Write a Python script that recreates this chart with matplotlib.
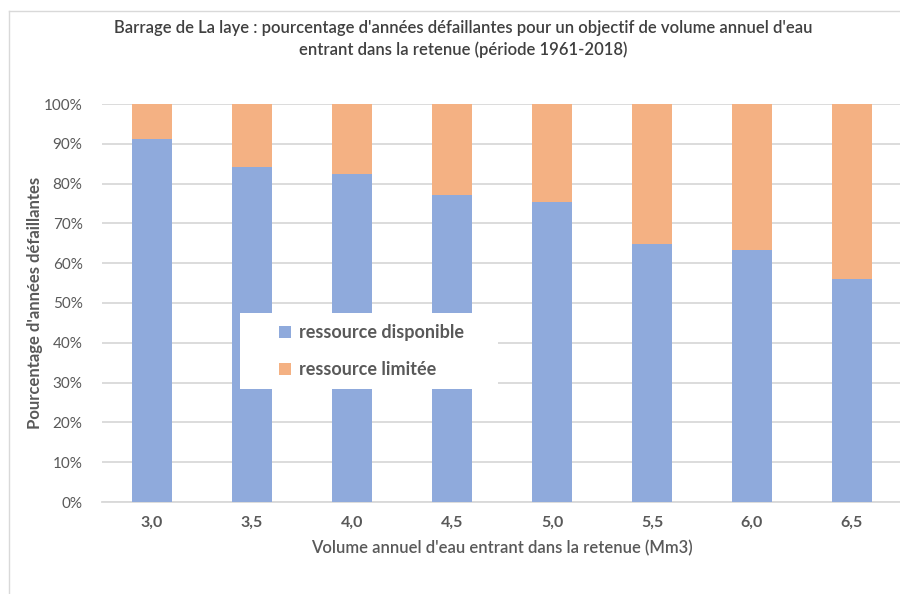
import numpy as np
import matplotlib
matplotlib.use("Agg")
import matplotlib.pyplot as plt
from matplotlib.patches import Rectangle
from matplotlib.ticker import PercentFormatter

# Share of failing years per annual inflow target (1961-2018)
volumes = ["3,0", "3,5", "4,0", "4,5", "5,0", "5,5", "6,0", "6,5"]
disponible = [91.2, 84.2, 82.5, 77.2, 75.4, 64.9, 63.2, 56.1]
limitee = [100 - v for v in disponible]

BLUE = "#8faadc"
ORANGE = "#f4b183"
TEXT = "#595959"
GRID = "#d9d9d9"

plt.rcParams.update({
    "font.family": ["Lato", "DejaVu Sans"],
    "text.color": TEXT,
    "axes.labelcolor": TEXT,
    "xtick.color": TEXT,
    "ytick.color": TEXT,
})

fig = plt.figure(figsize=(9.0, 5.94), dpi=100)
ax = fig.add_axes([102 / 900, 1 - 502 / 594, 800 / 900, 398 / 594])

x = np.arange(len(volumes))
w = 0.4
ax.bar(x, disponible, w, color=BLUE, label="ressource disponible", zorder=3)
ax.bar(x, limitee, w, bottom=disponible, color=ORANGE,
       label="ressource limitée", zorder=3)

ax.set_xlim(-0.5, 7.5)
ax.set_ylim(0, 100)
ax.set_yticks(np.arange(0, 101, 10))
ax.yaxis.set_major_formatter(PercentFormatter(decimals=0))
ax.set_xticks(x)
ax.set_xticklabels(volumes, fontweight="bold")
ax.tick_params(axis="y", length=0, labelsize=11, pad=14)
ax.tick_params(axis="x", length=0, labelsize=11.5, pad=10)
ax.yaxis.grid(True, color=GRID, linewidth=1.3, zorder=0)
for s in ["top", "right", "left"]:
    ax.spines[s].set_visible(False)
ax.spines["bottom"].set_color(GRID)
ax.spines["bottom"].set_linewidth(1.3)

ax.set_ylabel("Pourcentage d'années défaillantes", fontsize=12,
              fontweight="bold")
ax.yaxis.set_label_coords((43 - 102) / 800, 0.5)
ax.set_xlabel("Volume annuel d'eau entrant dans la retenue (Mm3)",
              fontsize=12, fontweight="semibold")
ax.xaxis.set_label_coords(0.5, (502 - 540) / 398)

fig.text(463 / 900, 1 - 39 / 594,
         "Barrage de La laye : pourcentage d'années défaillantes pour un objectif de volume annuel d'eau\n"
         "entrant dans la retenue (période 1961-2018)",
         ha="center", va="center", fontsize=12, fontweight="semibold",
         linespacing=1.4, color="#404040")

# outer chart frame
fig.add_artist(plt.Line2D([9 / 900, 9 / 900], [0, 1 - 11 / 594],
                          color=GRID, lw=1))
fig.add_artist(plt.Line2D([9 / 900, 1], [1 - 11 / 594, 1 - 11 / 594],
                          color=GRID, lw=1))

# legend sits in a white box over the bars
box = Rectangle((240 / 900, 1 - 389 / 594), 258 / 900, 76 / 594,
                transform=fig.transFigure, facecolor="white",
                edgecolor="none", zorder=5, clip_on=False)
ax.add_patch(box)
leg = ax.legend(loc="center left", bbox_to_anchor=(263 / 900, 1 - 351 / 594),
                bbox_transform=fig.transFigure, frameon=False,
                prop={"size": 13, "weight": "bold"}, handlelength=0.65,
                handleheight=0.65, handletextpad=0.45, labelspacing=1.1)
leg.set_zorder(6)
for t in leg.get_texts():
    t.set_color(TEXT)

fig.savefig("out.png", dpi=100, facecolor="white")
